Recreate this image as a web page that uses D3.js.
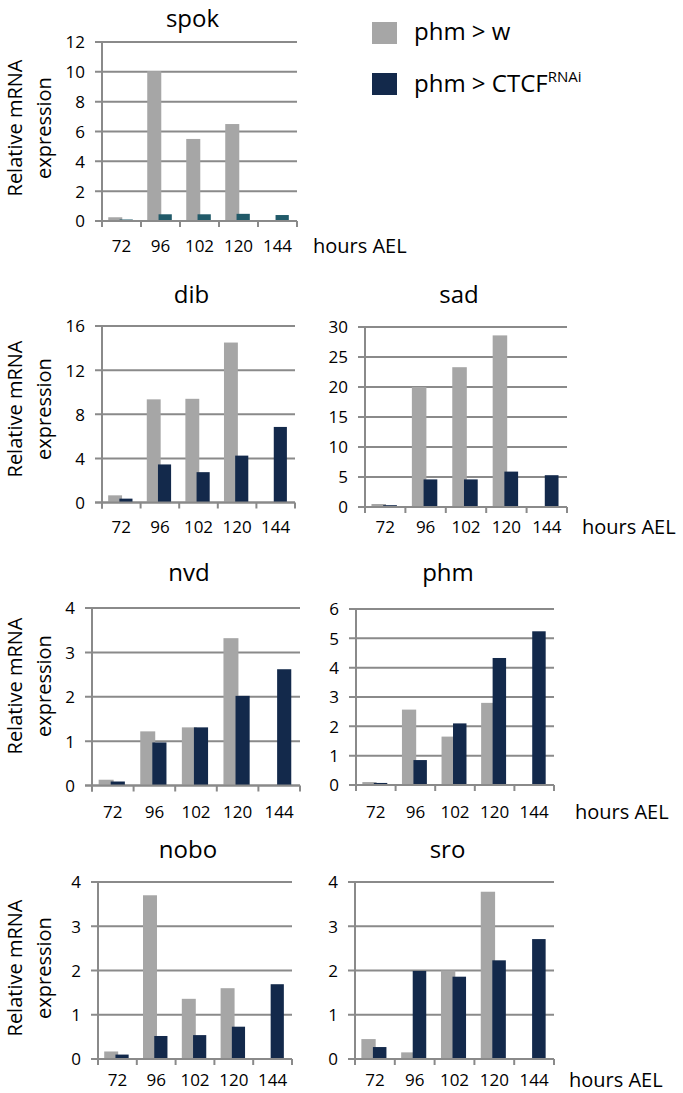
<!DOCTYPE html>
<html><head><meta charset="utf-8">
<script src="https://cdn.jsdelivr.net/npm/d3@7"></script>
<style>
body{margin:0;background:#fff;}
text{font-family:"Open Sans",sans-serif;fill:#000;}
</style></head>
<body>
<svg id="c" width="683" height="1093"></svg>
<script>
// ---- data ----
const hours = ["72","96","102","120","144"];
const seriesNames = ["phm > w","phm > CTCF"];
const spokW    = [0.25, 10.05, 5.5, 6.5, 0];
const spokRNAi = [0.1, 0.45, 0.45, 0.48, 0.4];
const dibW     = [0.65, 9.35, 9.4, 14.5, 0];
const dibRNAi  = [0.35, 3.45, 2.75, 4.25, 6.85];
const sadW     = [0.5, 20.0, 23.3, 28.6, 0];
const sadRNAi  = [0.3, 4.6, 4.6, 5.9, 5.3];
const nvdW     = [0.13, 1.22, 1.31, 3.32, 0];
const nvdRNAi  = [0.09, 0.97, 1.31, 2.02, 2.62];
const phmW     = [0.1, 2.57, 1.65, 2.8, 0];
const phmRNAi  = [0.07, 0.85, 2.1, 4.33, 5.24];
const noboW    = [0.17, 3.7, 1.36, 1.6, 0];
const noboRNAi = [0.1, 0.52, 0.54, 0.73, 1.69];
const sroW     = [0.45, 0.15, 2.0, 3.78, 0];
const sroRNAi  = [0.27, 1.99, 1.86, 2.23, 2.71];
const ticks12 = [0,2,4,6,8,10,12];
const ticks16 = [0,4,8,12,16];
const ticks30 = [0,5,10,15,20,25,30];
const ticks4  = [0,1,2,3,4];
const ticks6  = [0,1,2,3,4,5,6];

// ---- layout ----
const panels = [
 {name:"spok", w:spokW, r:spokRNAi, ticks:ticks12, x0:102, x1:297, top:42,  y0:221,   tb:27,  lb:252, ylab:128, hrs:313, dark:"#215a69"},
 {name:"dib",  w:dibW,  r:dibRNAi,  ticks:ticks16, x0:102, x1:295, top:326, y0:502.5, tb:303, lb:533, ylab:409},
 {name:"sad",  w:sadW,  r:sadRNAi,  ticks:ticks30, x0:365, x1:567, top:327, y0:507,   tb:303, lb:533, hrs:582},
 {name:"nvd",  w:nvdW,  r:nvdRNAi,  ticks:ticks4,  x0:92,  x1:300, top:608, y0:785.5, tb:581, lb:818, ylab:686},
 {name:"phm",  w:phmW,  r:phmRNAi,  ticks:ticks6,  x0:356, x1:554, top:609, y0:785,   tb:581, lb:818, hrs:575},
 {name:"nobo", w:noboW, r:noboRNAi, ticks:ticks4,  x0:98,  x1:292, top:882, y0:1059,  tb:858, lb:1086, ylab:968},
 {name:"sro",  w:sroW,  r:sroRNAi,  ticks:ticks4,  x0:355, x1:554, top:882, y0:1059,  tb:858, lb:1086, hrs:569}
];
const GREY = "#a6a6a6", NAVY = "#13294b", GRID = "#8a8a8a";
const svg = d3.select("#c");

panels.forEach(p => {
  const g = svg.append("g");
  const x = d3.scaleBand().domain(hours).range([p.x0, p.x1]).padding(0);
  const y = d3.scaleLinear().domain([0, d3.max(p.ticks)]).range([p.y0, p.top]);
  const bw = x.bandwidth();
  // gridlines
  g.selectAll("line.grid").data(p.ticks).join("line")
    .attr("x1", p.x0 - 7).attr("x2", p.x1)
    .attr("y1", d => y(d)).attr("y2", d => y(d))
    .attr("stroke", GRID).attr("stroke-width", 2);
  // bars
  const c = d => x(d) + bw/2;
  g.selectAll("rect.w").data(hours).join("rect")
    .attr("x", d => c(d) - 0.34*bw).attr("width", 0.36*bw)
    .attr("y", (d,i) => y(p.w[i])).attr("height", (d,i) => y(0) - y(p.w[i]))
    .attr("fill", GREY);
  g.selectAll("rect.r").data(hours).join("rect")
    .attr("x", d => c(d) - 0.05*bw).attr("width", 0.34*bw)
    .attr("y", (d,i) => y(p.r[i])).attr("height", (d,i) => y(0) - y(p.r[i]))
    .attr("fill", p.dark || NAVY);
  // axes lines
  g.append("line").attr("x1", p.x0).attr("x2", p.x0).attr("y1", y(d3.max(p.ticks))).attr("y2", p.y0 + 6)
    .attr("stroke", GRID).attr("stroke-width", 2);
  g.append("line").attr("x1", p.x0 - 7).attr("x2", p.x1).attr("y1", p.y0).attr("y2", p.y0)
    .attr("stroke", GRID).attr("stroke-width", 2);
  const bounds = hours.map(d => x(d)).concat([p.x1]);
  g.selectAll("line.xt").data(bounds).join("line")
    .attr("x1", d => d).attr("x2", d => d).attr("y1", p.y0).attr("y2", p.y0 + 6)
    .attr("stroke", GRID).attr("stroke-width", 2);
  // y tick labels
  const ya = d3.axisLeft(y).tickValues(p.ticks).tickFormat(d3.format("d")).tickSize(0).tickPadding(0);
  const yg = g.append("g").attr("transform", `translate(${p.x0 - 17},0)`).call(ya);
  yg.select(".domain").remove();
  yg.selectAll("text").attr("font-size", 17).attr("font-family", '"Open Sans",sans-serif').attr("fill", "#000").attr("dy", "0.35em");
  // x tick labels
  const xa = d3.axisBottom(x).tickSize(0).tickPadding(0);
  const xg = g.append("g").attr("transform", `translate(0,${p.lb})`).call(xa);
  xg.select(".domain").remove();
  xg.selectAll("text").attr("font-size", 17).attr("font-family", '"Open Sans",sans-serif').attr("fill", "#000").attr("dy", 0).attr("y", 0);
  // title
  g.append("text").attr("x", (p.x0 + p.x1)/2 - 7).attr("y", p.tb).attr("text-anchor", "middle")
    .attr("font-size", 24).text(p.name);
  if (p.hrs) {
    g.append("text").attr("x", p.hrs).attr("y", p.lb + 1).attr("font-size", 20).text("hours AEL");
  }
  if (p.ylab) {
    g.append("text").attr("transform", `translate(15,${p.ylab}) rotate(-90)`).attr("dy", "0.35em")
      .attr("text-anchor", "middle").attr("font-size", 20).text("Relative mRNA");
    g.append("text").attr("transform", `translate(44,${p.ylab}) rotate(-90)`).attr("dy", "0.35em")
      .attr("text-anchor", "middle").attr("font-size", 20).text("expression");
  }
});

// legend
const leg = svg.append("g");
leg.append("rect").attr("x", 372).attr("y", 22).attr("width", 25).attr("height", 22).attr("fill", GREY);
leg.append("rect").attr("x", 372).attr("y", 73).attr("width", 25).attr("height", 22).attr("fill", NAVY);
leg.append("text").attr("x", 414).attr("y", 40).attr("font-size", 24).text(seriesNames[0]);
const t2 = leg.append("text").attr("x", 414).attr("y", 92).attr("font-size", 24);
t2.append("tspan").text(seriesNames[1]);
t2.append("tspan").attr("font-size", 15).attr("dy", -10).text("RNAi");
</script>
</body></html>
